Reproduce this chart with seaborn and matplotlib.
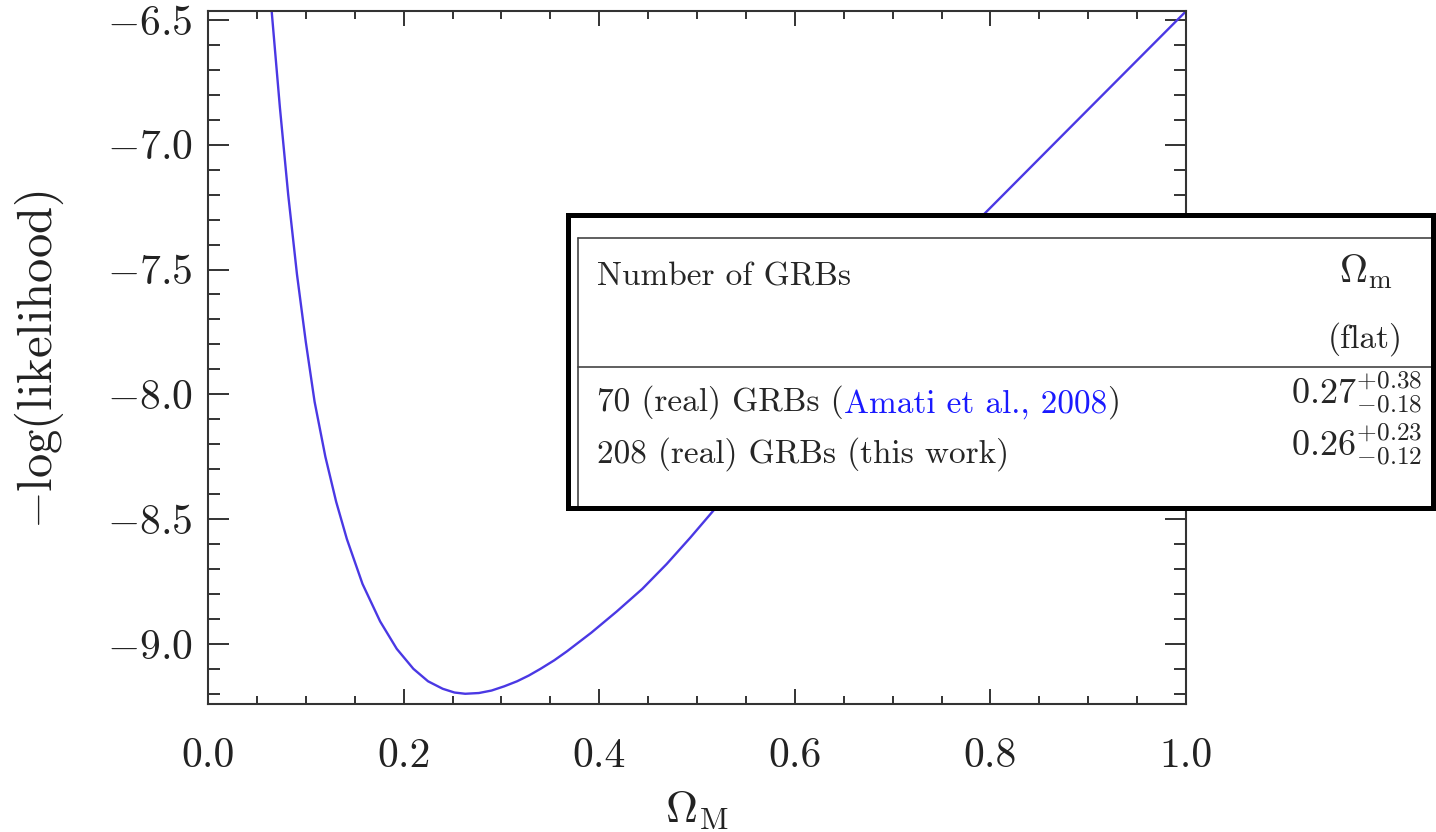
import matplotlib
matplotlib.use('Agg')
import matplotlib.pyplot as plt
import seaborn as sns
import numpy as np
from matplotlib.ticker import MultipleLocator

# curve
omega_m = [0.065, 0.0735, 0.082, 0.091, 0.100, 0.109, 0.120, 0.131, 0.142, 0.158,
           0.176, 0.193, 0.210, 0.225, 0.240, 0.252, 0.263, 0.277, 0.290, 0.303,
           0.316, 0.328, 0.340, 0.354, 0.367, 0.392, 0.418, 0.444, 0.469, 0.493,
           0.517, 0.600, 0.700, 0.793, 0.878, 1.000]
neg_log_like = [-6.46, -6.85, -7.20, -7.52, -7.79, -8.03, -8.25, -8.43, -8.58, -8.76,
                -8.91, -9.02, -9.10, -9.15, -9.18, -9.195, -9.20, -9.197, -9.187, -9.17,
                -9.15, -9.127, -9.10, -9.066, -9.03, -8.955, -8.87, -8.78, -8.68, -8.575,
                -8.465, -8.11, -7.69, -7.28, -6.945, -6.465]

x_ticks = [0.0, 0.2, 0.4, 0.6, 0.8, 1.0]
y_ticks = [-9.0, -8.5, -8.0, -7.5, -7.0, -6.5]

# inset table
col_head = ['Number of GRBs', r'$\Omega_{\rm m}$', '(flat)']
row_pre = ['70 (real) GRBs (', '208 (real) GRBs (this work)']
row_ref = ['Amati et al., 2008', '']
row_post = [')', '']
row_val = [r'$0.27^{+0.38}_{-0.18}$', r'$0.26^{+0.23}_{-0.12}$']

sns.set_style('ticks')
plt.rcParams['font.family'] = ['serif']
plt.rcParams['font.serif'] = ['cmr10', 'DejaVu Serif']
plt.rcParams['mathtext.fontset'] = 'cm'
plt.rcParams['axes.formatter.use_mathtext'] = True

W, H = 1436, 832
fig = plt.figure(figsize=(W / 100, H / 100), dpi=100)
ax = fig.add_axes([208 / W, 1 - 704 / H, (1186 - 208) / W, (704 - 11) / H])

sns.lineplot(x=omega_m, y=neg_log_like, ax=ax, color='#4a38e4', lw=1.7)

ax.set_xlim(0, 1)
ax.set_ylim(-9.241, -6.464)
ax.set_xticks(x_ticks)
ax.set_yticks(y_ticks)
ax.xaxis.set_minor_locator(MultipleLocator(0.05))
ax.yaxis.set_minor_locator(MultipleLocator(0.1))
for s in ax.spines.values():
    s.set_linewidth(1.5)
    s.set_color('#333333')
ax.tick_params(axis='both', which='both', direction='in', top=True, right=True,
               color='#333333', width=1.4, labelsize=30)
ax.tick_params(axis='x', which='major', length=11, pad=24)
ax.tick_params(axis='x', which='minor', length=6)
ax.tick_params(axis='y', which='major', length=15, pad=11)
ax.tick_params(axis='y', which='minor', length=8.5)
ax.set_xticklabels([f'{v:.1f}' for v in x_ticks])
ax.set_yticklabels([f'$-{abs(v):.1f}$' for v in y_ticks])
for lab in ax.get_xticklabels() + ax.get_yticklabels():
    lab.set_color('#222222')

ax.set_xlabel(r'$\Omega_{\rm M}$', fontsize=32, color='#222222')
ax.xaxis.set_label_coords(0.5, -0.153)
ax.xaxis.label.set_va('center')
ax.set_ylabel(r'$-\log(\rm likelihood)$', fontsize=35, color='#222222')
ax.yaxis.set_label_coords(-0.172, 0.496)
ax.yaxis.label.set_va('center')

# table inset (figure-level box)
tab = fig.add_axes([568 / W, 1 - 508 / H, (1433 - 568) / W, (508 - 215) / H])
tab.set_xlim(0, 1)
tab.set_ylim(0, 1)
tab.set_xticks([])
tab.set_yticks([])
tab.set_facecolor('white')
for s in tab.spines.values():
    s.set_linewidth(3.6)
    s.set_color('black')
tab.axhline(0.9215, xmin=0.0116, color='#444444', lw=1.2)
tab.axhline(0.481, xmin=0.0116, color='#444444', lw=1.2)
tab.axvline(0.0116, ymax=0.9215, color='#444444', lw=1.2)

fs = 24
tab.text(0.0336, 0.761, col_head[0], fontsize=fs, va='baseline')
tab.text(0.922, 0.771, col_head[1], fontsize=fs + 4, va='baseline', ha='center')
tab.text(0.922, 0.549, col_head[2], fontsize=fs, va='baseline', ha='center')

row_y = [0.305, 0.125]
for i in range(2):
    t = tab.text(0.0336, row_y[i], row_pre[i], fontsize=fs, va='bottom')
    if row_ref[i]:
        t2 = tab.annotate(row_ref[i], xy=(1, 0), xycoords=t, fontsize=fs,
                          va='bottom', color='#1a1aff')
        tab.annotate(row_post[i], xy=(1, 0), xycoords=t2, fontsize=fs, va='bottom')
    tab.text(0.988, row_y[i] + 0.05, row_val[i], fontsize=fs + 2, va='baseline', ha='right')

fig.savefig('out.png', dpi=100)
